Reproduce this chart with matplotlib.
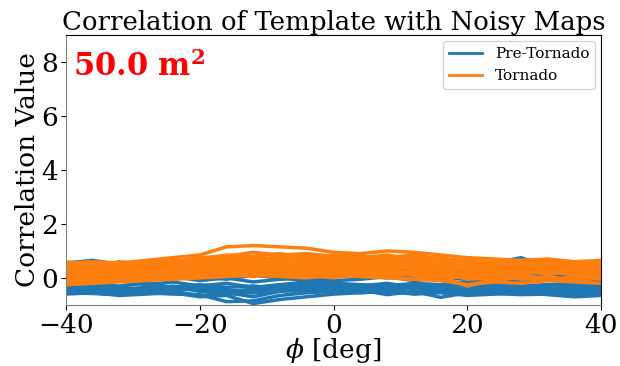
import numpy as np
import matplotlib
matplotlib.use("Agg")
import matplotlib.pyplot as plt

plt.rcParams['font.family'] = 'DejaVu Serif'
plt.rcParams['mathtext.fontset'] = 'dejavuserif'

# azimuth angle (deg)
phi = np.arange(-40, 41, 4)

# correlation of template with noisy maps, pre-tornado cases
pre_tornado = [
    [-0.55, -0.58, -0.62, -0.55, -0.60, -0.62, -0.88, -0.85, -0.65, -0.55, -0.50, -0.45, -0.62, -0.50, -0.72, -0.55, -0.58, -0.62, -0.60, -0.65, -0.60],
    [-0.45, -0.50, -0.48, -0.55, -0.50, -0.65, -0.60, -0.55, -0.45, -0.40, -0.45, -0.55, -0.48, -0.58, -0.50, -0.62, -0.55, -0.50, -0.58, -0.55, -0.65],
    [-0.30, -0.35, -0.40, -0.38, -0.45, -0.40, -0.50, -0.42, -0.35, -0.30, -0.28, -0.35, -0.40, -0.30, -0.38, -0.45, -0.40, -0.42, -0.35, -0.48, -0.40],
    [0.55, 0.65, 0.50, 0.40, 0.35, 0.30, 0.25, 0.30, 0.20, 0.25, 0.30, 0.20, 0.25, 0.30, 0.35, 0.40, 0.45, 0.70, 0.55, 0.45, 0.40],
    [0.10, 0.05, 0.15, 0.00, 0.10, 0.05, -0.05, 0.10, 0.00, -0.10, 0.05, 0.10, 0.00, 0.05, -0.05, 0.10, 0.20, 0.15, 0.05, 0.10, 0.00],
    [-0.15, -0.20, -0.10, -0.25, -0.15, -0.30, -0.20, -0.35, -0.25, -0.15, -0.20, -0.25, -0.30, -0.20, -0.25, -0.15, -0.30, -0.35, -0.25, -0.30, -0.35],
    [0.30, 0.25, 0.35, 0.20, 0.25, 0.15, 0.30, 0.20, 0.10, 0.15, 0.25, 0.30, 0.20, 0.10, 0.15, 0.25, 0.30, 0.20, 0.35, 0.30, 0.25],
    [-0.40, -0.30, -0.35, -0.45, -0.30, -0.50, -0.55, -0.70, -0.50, -0.45, -0.35, -0.40, -0.30, -0.40, -0.45, -0.35, -0.30, -0.45, -0.40, -0.35, -0.45],
    [-0.05, 0.00, -0.10, -0.05, 0.05, -0.10, 0.00, -0.15, -0.05, 0.00, -0.10, -0.05, 0.05, -0.10, 0.00, -0.05, -0.15, -0.10, 0.00, -0.05, -0.10],
    [-0.50, -0.45, -0.55, -0.50, -0.40, -0.45, -0.60, -0.50, -0.40, -0.35, -0.30, -0.40, -0.45, -0.35, -0.50, -0.40, -0.45, -0.55, -0.50, -0.60, -0.55],
    [-0.60, -0.55, -0.65, -0.60, -0.55, -0.70, -0.65, -0.95, -0.80, -0.70, -0.60, -0.55, -0.50, -0.60, -0.55, -0.65, -0.60, -0.55, -0.62, -0.70, -0.65],
    [-0.20, -0.25, -0.30, -0.20, -0.35, -0.25, -0.35, -0.30, -0.40, -0.25, -0.35, -0.30, -0.20, -0.35, -0.30, -0.25, -0.20, -0.30, -0.25, -0.20, -0.30],
    [-0.35, -0.40, -0.45, -0.35, -0.40, -0.35, -0.45, -0.55, -0.45, -0.50, -0.40, -0.35, -0.45, -0.55, -0.40, -0.50, -0.45, -0.40, -0.48, -0.42, -0.50],
    [0.35, 0.45, 0.40, 0.30, 0.20, 0.35, 0.15, 0.25, 0.30, 0.20, 0.10, 0.25, 0.15, 0.25, 0.30, 0.35, 0.55, 0.75, 0.40, 0.30, 0.35],
]

# correlation of template with noisy maps, tornado cases
tornado = [
    [0.55, 0.60, 0.55, 0.65, 0.75, 0.85, 1.15, 1.20, 1.15, 1.10, 0.95, 0.90, 1.00, 0.95, 0.85, 0.75, 0.70, 0.65, 0.70, 0.60, 0.65],
    [0.40, 0.45, 0.50, 0.60, 0.55, 0.70, 0.85, 0.80, 0.90, 0.75, 0.85, 0.80, 0.70, 0.80, 0.65, 0.60, 0.55, 0.60, 0.50, 0.55, 0.60],
    [0.20, 0.30, 0.25, 0.35, 0.40, 0.50, 0.45, 0.60, 0.55, 0.60, 0.50, 0.55, 0.60, 0.45, 0.50, 0.40, 0.45, 0.35, 0.40, 0.45, 0.40],
    [0.00, 0.10, 0.05, 0.15, 0.20, 0.25, 0.30, 0.25, 0.35, 0.30, 0.25, 0.35, 0.30, 0.20, 0.25, 0.15, 0.20, 0.25, 0.15, 0.20, 0.25],
    [-0.25, -0.20, -0.15, -0.10, -0.05, 0.00, 0.05, 0.10, 0.05, 0.00, 0.10, 0.05, 0.00, -0.05, -0.10, -0.25, -0.15, -0.20, -0.10, -0.15, -0.20],
    [0.35, 0.25, 0.40, 0.30, 0.45, 0.35, 0.55, 0.65, 0.50, 0.45, 0.55, 0.65, 0.50, 0.60, 0.55, 0.45, 0.35, 0.50, 0.40, 0.30, 0.35],
    [0.10, 0.20, 0.15, 0.05, 0.25, 0.15, 0.35, 0.20, 0.25, 0.15, 0.30, 0.20, 0.15, 0.30, 0.10, 0.20, 0.05, 0.15, 0.25, 0.10, 0.15],
    [-0.15, -0.05, -0.10, 0.05, -0.05, 0.10, 0.15, 0.05, 0.20, 0.10, 0.00, 0.15, 0.05, -0.05, 0.05, -0.30, -0.05, 0.00, -0.10, 0.05, -0.05],
    [0.50, 0.40, 0.60, 0.50, 0.65, 0.60, 0.70, 0.75, 0.60, 0.70, 0.65, 0.75, 0.85, 0.70, 0.75, 0.55, 0.60, 0.50, 0.55, 0.50, 0.45],
    [0.25, 0.35, 0.30, 0.45, 0.35, 0.40, 0.50, 0.40, 0.45, 0.50, 0.40, 0.45, 0.35, 0.40, 0.35, 0.30, 0.25, 0.30, 0.35, 0.25, 0.30],
    [-0.10, 0.00, 0.05, -0.05, 0.10, 0.05, 0.20, 0.15, 0.10, 0.20, 0.15, 0.10, 0.20, 0.10, 0.00, 0.05, -0.10, 0.05, 0.00, -0.05, 0.05],
    [0.15, 0.05, 0.20, 0.25, 0.15, 0.30, 0.40, 0.35, 0.45, 0.35, 0.45, 0.40, 0.45, 0.35, 0.30, 0.35, 0.30, 0.40, 0.30, 0.35, 0.20],
    [0.05, 0.15, 0.25, 0.20, 0.30, 0.40, 0.55, 0.50, 0.65, 0.55, 0.60, 0.70, 0.55, 0.50, 0.45, 0.50, 0.40, 0.30, 0.45, 0.35, 0.30],
    [0.45, 0.55, 0.40, 0.50, 0.45, 0.55, 0.60, 0.70, 0.75, 0.65, 0.60, 0.55, 0.65, 0.75, 0.60, 0.65, 0.55, 0.45, 0.55, 0.60, 0.50],
    [-0.20, -0.10, 0.00, 0.10, 0.00, 0.15, 0.10, 0.25, 0.15, 0.25, 0.20, 0.25, 0.10, 0.15, 0.20, 0.05, 0.10, -0.05, 0.05, -0.10, 0.00],
    [0.30, 0.20, 0.35, 0.45, 0.55, 0.45, 0.65, 0.55, 0.70, 0.60, 0.75, 0.65, 0.70, 0.55, 0.60, 0.50, 0.40, 0.55, 0.45, 0.40, 0.50],
    [0.60, 0.50, 0.45, 0.55, 0.60, 0.75, 0.80, 0.95, 0.85, 0.90, 0.80, 0.70, 0.75, 0.85, 0.70, 0.65, 0.50, 0.55, 0.60, 0.50, 0.55],
    [-0.05, 0.05, 0.10, 0.00, 0.05, 0.20, 0.25, 0.30, 0.20, 0.10, 0.25, 0.30, 0.25, 0.15, 0.20, -0.05, 0.00, 0.10, -0.05, 0.00, 0.10],
    [0.15, 0.25, 0.35, 0.40, 0.30, 0.35, 0.45, 0.50, 0.40, 0.45, 0.35, 0.50, 0.40, 0.50, 0.45, 0.35, 0.30, 0.20, 0.25, 0.30, 0.15],
    [0.40, 0.35, 0.30, 0.25, 0.40, 0.60, 0.70, 0.60, 0.80, 0.85, 0.70, 0.60, 0.80, 0.65, 0.55, 0.45, 0.50, 0.40, 0.35, 0.45, 0.40],
]

area_label = r'50.0 $\mathbf{m^2}$'

fig = plt.figure(figsize=(6.2, 3.66), dpi=100)
ax = fig.add_axes([0.106, 0.167, 0.864, 0.737])

for i, y in enumerate(pre_tornado):
    ax.plot(phi, y, color='tab:blue', lw=2.5, label='Pre-Tornado' if i == 0 else None)
for i, y in enumerate(tornado):
    ax.plot(phi, y, color='tab:orange', lw=2.5, label='Tornado' if i == 0 else None)

ax.set_xlim(-40, 40)
ax.set_ylim(-1, 9)
ax.set_xticks([-40, -20, 0, 20, 40])
ax.set_yticks([0, 2, 4, 6, 8])
ax.tick_params(labelsize=19, pad=2)
ax.spines['left'].set_color('gray')
ax.spines['bottom'].set_color('gray')

ax.set_title('Correlation of Template with Noisy Maps', fontsize=18.7, pad=3)
ax.set_xlabel(r'$\phi$ [deg]', fontsize=19, labelpad=-1)
ax.set_ylabel('Correlation Value', fontsize=19, labelpad=1)

ax.text(0.013, 0.85, area_label, transform=ax.transAxes, color='red',
        fontsize=22, fontweight='bold')

leg = ax.legend(loc='upper right', fontsize=11, framealpha=0.8, borderaxespad=0.4,
                handlelength=2.2)
for line in leg.get_lines():
    line.set_linewidth(2)

fig.savefig('out.png', dpi=100)
